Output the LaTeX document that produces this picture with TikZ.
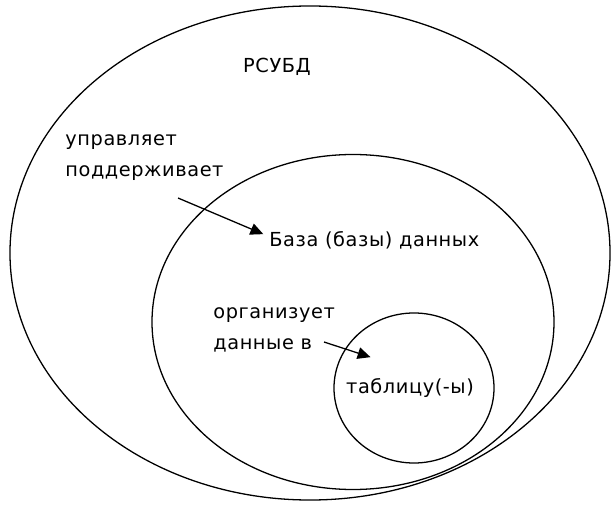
\documentclass[tikz,border=0pt]{standalone}
\usepackage{fontspec}
\setmainfont{DejaVu Sans}[LetterSpace=3]
\usetikzlibrary{positioning,arrows.meta,shapes.geometric}

\begin{document}
\begin{tikzpicture}[
    x=0.03cm, y=-0.03cm,
    set/.style={ellipse, draw, line width=1.1pt, inner sep=0pt},
    lbl/.style={font=\fontsize{16.5}{27}\selectfont, inner sep=1pt},
    arr/.style={-{Triangle[length=11pt, width=10pt]}, line width=1.1pt}
]
\useasboundingbox (0,0) rectangle (612,511);

% Sets
\node[set, minimum width=18cm, minimum height=14.82cm] (rdbms) at (310,253) {};
\node[set, minimum width=12.06cm, minimum height=10.05cm] (db) at (353,322) {};
\node[set, minimum width=4.8cm, minimum height=4.5cm] (tbl) at (414,388) {};

% Labels
\node[lbl] (rdbmsl) at (277,67) {РСУБД};
\node[lbl, align=left, anchor=north west] (mng) at (64,133) {управляет\\поддерживает};
\node[lbl, anchor=west] (dbl) at (268,240) {База (базы) данных};
\node[lbl, align=left, anchor=north west] (org) at (212,306) {организует\\данные в};
\node[lbl] (tbll) at (410,388) {таблицу(-ы)};

% Arrows
\coordinate (mngend) at (178,198);
\coordinate (orgend) at (324,342);
\draw[arr] (mngend) -- ([xshift=-4pt, yshift=5pt]dbl.west);
\draw[arr] (orgend) -- ([xshift=22pt, yshift=17pt]tbll.north west);

\end{tikzpicture}
\end{document}
